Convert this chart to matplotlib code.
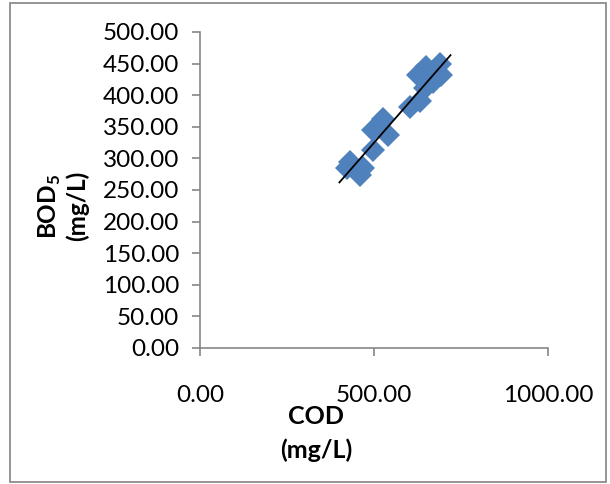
import numpy as np
import matplotlib.pyplot as plt
from matplotlib.patches import Rectangle

plt.rcParams['font.family'] = ['Lato', 'DejaVu Sans']
plt.rcParams['mathtext.fontset'] = 'custom'
plt.rcParams['mathtext.rm'] = 'Lato'
plt.rcParams['mathtext.bf'] = 'Lato:bold'

# COD vs BOD5 samples (mg/L)
cod = [421, 430, 459, 468, 497, 497, 526, 540, 602, 631, 645, 626, 650, 668, 688, 693]
bod5 = [284, 295, 274, 284, 313, 345, 363, 337, 382, 390, 411, 432, 445, 421, 450, 432]

y_ticks = np.arange(0, 501, 50)
x_ticks = [0, 500, 1000]

fig = plt.figure(figsize=(6.1, 4.84), dpi=100)
ax = fig.add_axes([0.328, 0.281, 0.571, 0.653])

ax.plot(cod, bod5, linestyle='none', marker='D', markersize=12.5,
        color='#4f81bd', markeredgewidth=0, zorder=2)

# linear trendline, extended a little past the data
slope, intercept = np.polyfit(cod, bod5, 1)
xt = np.array([min(cod) - 21, max(cod) + 26])
ax.plot(xt, slope * xt + intercept, color='black', lw=1.3, zorder=3)

ax.set_xlim(0, 1000)
ax.set_ylim(0, 500)
ax.set_xticks(x_ticks)
ax.set_xticklabels([f'{v:.2f}' for v in x_ticks])
ax.set_yticks(y_ticks)
ax.set_yticklabels([f'{v:.2f}' for v in y_ticks])

for side in ['top', 'right']:
    ax.spines[side].set_visible(False)
for side in ['left', 'bottom']:
    ax.spines[side].set_color('#868686')
    ax.spines[side].set_linewidth(1.2)
ax.tick_params(axis='both', direction='out', length=6, width=1.2,
               color='#868686', labelsize=17.5, labelcolor='black')
ax.tick_params(axis='x', pad=21)
ax.tick_params(axis='y', pad=9)

fig.text(0.103, 0.574, 'BOD$_\\mathbf{5}$\n(mg/L)', rotation=90, ha='center',
         va='center', fontsize=17.5, fontweight='bold', linespacing=1.15)
fig.text(0.518, 0.105, 'COD\n(mg/L)', ha='center', va='center',
         fontsize=18, fontweight='bold', linespacing=1.55)

fig.patches.append(Rectangle((0.017, 0.004), 0.976, 0.99, transform=fig.transFigure,
                             fill=False, edgecolor='#8c8c8c', lw=1.3))

fig.savefig('out.png', dpi=100)
